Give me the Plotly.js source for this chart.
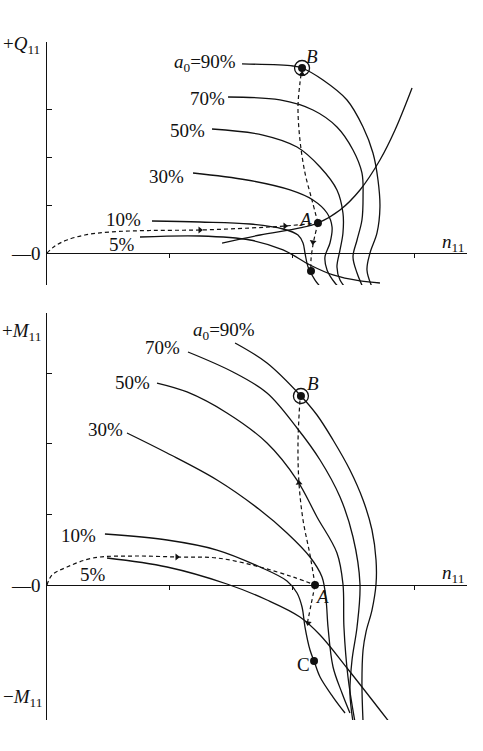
<!DOCTYPE html>
<html>
<head>
<meta charset="utf-8">
<script src="https://cdn.plot.ly/plotly-3.0.1.min.js"></script>
<style>html,body{margin:0;padding:0;background:#fff}</style>
</head>
<body>
<div id="chart" style="width:483px;height:751px"></div>
<script>
// Unit discharge Q11 against unit speed n11, one curve per guide-vane opening a0
const q5N  = [0.759, 1.249, 1.657, 1.927, 2.147, 2.335, 2.555, 2.718];
const q5Q  = [0.333, 0.354, 0.271, 0.063, -0.25, -0.458, -0.583, -0.625];
const q10N = [0.857, 1.249, 1.657, 1.927, 2.049, 2.090, 2.106, 2.131, 2.188, 2.269];
const q10Q = [0.667, 0.646, 0.604, 0.5, 0.375, 0.208, 0, -0.292, -0.563, -0.813];
const q30N = [1.192, 1.633, 1.984, 2.171, 2.286, 2.327, 2.310, 2.269, 2.286, 2.351, 2.433];
const q30Q = [1.667, 1.521, 1.313, 1.104, 0.833, 0.542, 0.208, -0.083, -0.354, -0.625, -0.833];
const q50N = [1.347, 1.763, 2.041, 2.229, 2.367, 2.416, 2.416, 2.392, 2.367, 2.392, 2.490];
const q50Q = [2.583, 2.458, 2.208, 1.792, 1.313, 0.833, 0.417, 0.063, -0.292, -0.563, -0.875];
const q70N = [1.478, 1.902, 2.171, 2.367, 2.498, 2.571, 2.580, 2.571, 2.531, 2.498, 2.531, 2.596];
const q70Q = [3.25, 3.188, 2.979, 2.625, 2.146, 1.667, 1.167, 0.688, 0.271, -0.083, -0.417, -0.813];
const q90N = [1.592, 2.008, 2.082, 2.253, 2.449, 2.580, 2.661, 2.702, 2.718, 2.694, 2.637, 2.612, 2.653];
const q90Q = [3.938, 3.896, 3.854, 3.604, 3.188, 2.625, 2.083, 1.521, 0.958, 0.417, 0, -0.354, -0.708];
// parabola through A
const parN = [1.429, 1.739, 2.065, 2.212, 2.392, 2.555, 2.718, 2.841, 2.980];
const parQ = [0.208, 0.375, 0.521, 0.625, 0.896, 1.313, 1.938, 2.563, 3.438];

// Unit torque M11 against n11
const m5N  = [0.490, 0.980, 1.469, 1.796, 2.065, 2.229, 2.449, 2.800];
const m5M  = [0.383, 0.255, 0.014, -0.213, -0.454, -0.709, -1.177, -1.957];
const m10N = [0.473, 0.980, 1.388, 1.739, 1.959, 2.041, 2.082, 2.106, 2.147, 2.180, 2.229, 2.335, 2.433];
const m10M = [0.723, 0.638, 0.496, 0.255, 0.057, -0.113, -0.312, -0.596, -0.922, -1.078, -1.305, -1.589, -1.816];
const m30N = [0.653, 0.980, 1.388, 1.739, 1.959, 2.147, 2.245, 2.278, 2.294, 2.335, 2.408, 2.473];
const m30M = [2.156, 1.872, 1.489, 1.064, 0.738, 0.397, 0.113, -0.213, -0.596, -1.163, -1.532, -1.816];
const m50N = [0.898, 1.143, 1.469, 1.796, 2.041, 2.204, 2.367, 2.416, 2.424, 2.457, 2.514];
const m50M = [2.865, 2.738, 2.440, 2.014, 1.489, 0.965, 0.454, 0.014, -0.596, -1.305, -1.943];
const m70N = [1.151, 1.518, 1.796, 2.041, 2.229, 2.392, 2.498, 2.555, 2.531, 2.490, 2.473, 2.498];
const m70M = [3.305, 3.021, 2.723, 2.227, 1.773, 1.248, 0.681, 0.014, -0.596, -1.064, -1.532, -1.943];
const m90N = [1.535, 1.796, 2.073, 2.204, 2.335, 2.473, 2.580, 2.653, 2.686, 2.686, 2.653, 2.604, 2.580, 2.571, 2.580];
const m90M = [3.433, 3.149, 2.681, 2.411, 2.057, 1.631, 1.206, 0.780, 0.355, 0.014, -0.355, -0.667, -0.922, -1.390, -1.943];

// operating trajectory O -> A, then A -> B and A -> C
const qPathN = [0, 0.065, 0.163, 0.310, 0.514, 0.841, 1.249, 1.657, 1.943, 2.212];
const qPathQ = [0, 0.146, 0.271, 0.375, 0.438, 0.469, 0.479, 0.521, 0.563, 0.625];
const qABN = [2.212, 2.163, 2.106, 2.065, 2.049, 2.065, 2.082];
const qABQ = [0.625, 1.104, 1.667, 2.354, 3.042, 3.542, 3.854];
const qACN = [2.212, 2.188, 2.171, 2.155, 2.155];
const qACQ = [0.625, 0.375, 0.167, -0.146, -0.375];

const mPathN = [0, 0.041, 0.163, 0.376, 0.702, 1.061, 1.388, 1.739, 2.008, 2.188];
const mPathM = [0, 0.142, 0.255, 0.383, 0.411, 0.397, 0.383, 0.255, 0.113, 0];
const mABN = [2.188, 2.147, 2.090, 2.057, 2.049, 2.065];
const mABM = [0, 0.426, 0.922, 1.447, 2.014, 2.624];
const mACN = [2.188, 2.155, 2.122];
const mACM = [0, -0.284, -0.567];

// operating points A, B, C
const qPtN = [2.212, 2.082, 2.155];
const qPtQ = [0.625, 3.854, -0.375];
const mPtN = [2.188, 2.073, 2.180];
const mPtM = [0, 2.681, -1.078];

// direction arrows along the trajectory (angle in degrees, clockwise from up)
const qArrN = [1.249, 1.943, 2.082, 2.171];
const qArrQ = [0.479, 0.563, 3.729, 0.229];
const qArrA = [90, 90, 8, 188];
const mArrN = [1.061, 2.057, 2.131];
const mArrM = [0.397, 1.447, -0.539];
const mArrA = [90, -4, 190];

// opening labels
const openLabels = ['5%', '10%', '30%', '50%', '70%', '<i>a</i><sub>0</sub>=90%'];
const qLabN = [0.735, 0.784, 1.135, 1.306, 1.469, 1.559];
const qLabQ = [0.167, 0.688, 1.604, 2.542, 3.229, 3.958];
const mLabN = [0.498, 0.416, 0.637, 0.857, 1.102, 1.714];
const mLabM = [0.142, 0.709, 2.199, 2.879, 3.362, 3.603];

const FONT = 'Liberation Serif, Times New Roman, serif';
const INK = '#111';

function curve(x, y, xa, ya) {
  return {x: x, y: y, xaxis: xa, yaxis: ya, type: 'scatter', mode: 'lines',
    line: {color: INK, width: 1.3, shape: 'spline', smoothing: 1}, hoverinfo: 'skip'};
}
function dashed(x, y, xa, ya) {
  return {x: x, y: y, xaxis: xa, yaxis: ya, type: 'scatter', mode: 'lines',
    line: {color: INK, width: 1.2, dash: '4px,3px', shape: 'spline', smoothing: 1}, hoverinfo: 'skip'};
}
function arrows(x, y, ang, xa, ya) {
  return {x: x, y: y, xaxis: xa, yaxis: ya, type: 'scatter', mode: 'markers',
    marker: {symbol: 'triangle-up', size: 6, color: INK, angle: ang, line: {width: 0}}, hoverinfo: 'skip'};
}
function dots(x, y, xa, ya) {
  return {x: x, y: y, xaxis: xa, yaxis: ya, type: 'scatter', mode: 'markers',
    marker: {symbol: 'circle', size: 8, color: INK}, hoverinfo: 'skip', cliponaxis: false};
}
function ring(x, y, xa, ya) {
  return {x: [x], y: [y], xaxis: xa, yaxis: ya, type: 'scatter', mode: 'markers',
    marker: {symbol: 'circle-open', size: 15, color: INK, line: {width: 1.3, color: INK}}, hoverinfo: 'skip'};
}

const traces = [
  curve(q5N, q5Q, 'x', 'y'), curve(q10N, q10Q, 'x', 'y'), curve(q30N, q30Q, 'x', 'y'),
  curve(q50N, q50Q, 'x', 'y'), curve(q70N, q70Q, 'x', 'y'), curve(q90N, q90Q, 'x', 'y'),
  curve(parN, parQ, 'x', 'y'),
  dashed(qPathN, qPathQ, 'x', 'y'), dashed(qABN, qABQ, 'x', 'y'), dashed(qACN, qACQ, 'x', 'y'),
  arrows(qArrN, qArrQ, qArrA, 'x', 'y'),
  dots(qPtN, qPtQ, 'x', 'y'), ring(qPtN[1], qPtQ[1], 'x', 'y'),

  curve(m5N, m5M, 'x2', 'y2'), curve(m10N, m10M, 'x2', 'y2'), curve(m30N, m30M, 'x2', 'y2'),
  curve(m50N, m50M, 'x2', 'y2'), curve(m70N, m70M, 'x2', 'y2'), curve(m90N, m90M, 'x2', 'y2'),
  dashed(mPathN, mPathM, 'x2', 'y2'), dashed(mABN, mABM, 'x2', 'y2'), dashed(mACN, mACM, 'x2', 'y2'),
  arrows(mArrN, mArrM, mArrA, 'x2', 'y2'),
  dots(mPtN, mPtM, 'x2', 'y2'), ring(mPtN[1], mPtM[1], 'x2', 'y2')
];

const W = 483, H = 751;
const fy = py => 1 - py / H;

function xAxis(posPx) {
  return {domain: [47 / W, 467 / W], range: [0, 3.4286], anchor: 'free', position: fy(posPx),
    showline: true, linecolor: INK, linewidth: 1.3, ticks: 'outside', ticklen: 4, tickwidth: 1,
    tickcolor: INK, tickvals: [1, 2, 3], showticklabels: false, showgrid: false, zeroline: false,
    fixedrange: true};
}
function yAxis(anchor, topPx, botPx, range) {
  return {domain: [fy(botPx), fy(topPx)], range: range, anchor: anchor,
    showline: true, linecolor: INK, linewidth: 1.3, ticks: 'inside', ticklen: 5, tickwidth: 1,
    tickcolor: INK, tickvals: [1, 2, 3], showticklabels: false, showgrid: false, zeroline: false,
    fixedrange: true};
}

const txt = {family: FONT, size: 19, color: INK};
const annotations = [];
function label(text, x, y, xa, ya, anchor) {
  annotations.push({text: text, x: x, y: y, xref: xa, yref: ya, showarrow: false,
    xanchor: anchor || 'right', yanchor: 'middle', font: txt});
}
openLabels.forEach((t, i) => {
  label(t, qLabN[i], qLabQ[i], 'x', 'y');
  label(t, mLabN[i], mLabM[i], 'x2', 'y2');
});
// point names
label('<i>A</i>', 2.106, 0.708, 'x', 'y', 'center');
label('<i>B</i>', 2.163, 4.104, 'x', 'y', 'center');
label('<i>C</i>', 2.122, -0.667, 'x', 'y', 'center');
label('<i>A</i>', 2.242, -0.166, 'x2', 'y2', 'center');
label('<i>B</i>', 2.171, 2.865, 'x2', 'y2', 'center');
label('C', 2.090, -1.121, 'x2', 'y2', 'center');

// axis names
function axisName(text, xPx, yPx, anchor) {
  annotations.push({text: text, x: xPx / W, y: fy(yPx), xref: 'paper', yref: 'paper', showarrow: false,
    xanchor: anchor, yanchor: 'middle', font: txt});
}
axisName('+<i>Q</i><sub>11</sub>', 42, 45, 'right');
axisName('\u20140', 43, 253, 'right');
axisName('<i>n</i><sub>11</sub>', 453, 243, 'center');
axisName('+<i>M</i><sub>11</sub>', 43, 332, 'right');
axisName('\u20140', 43, 585, 'right');
axisName('<i>n</i><sub>11</sub>', 453, 574, 'center');
axisName('\u2212<i>M</i><sub>11</sub>', 44, 698, 'right');

const layout = {
  width: W, height: H, margin: {l: 0, r: 0, t: 0, b: 0},
  paper_bgcolor: '#fff', plot_bgcolor: 'rgba(0,0,0,0)', showlegend: false,
  font: txt,
  xaxis: xAxis(253),
  yaxis: yAxis('x', 42, 285, [-0.6667, 4.3958]),
  xaxis2: xAxis(585),
  yaxis2: yAxis('x2', 313, 720, [-1.915, 3.858]),
  annotations: annotations
};

Plotly.newPlot('chart', traces, layout, {displayModeBar: false});
</script>
</body>
</html>
